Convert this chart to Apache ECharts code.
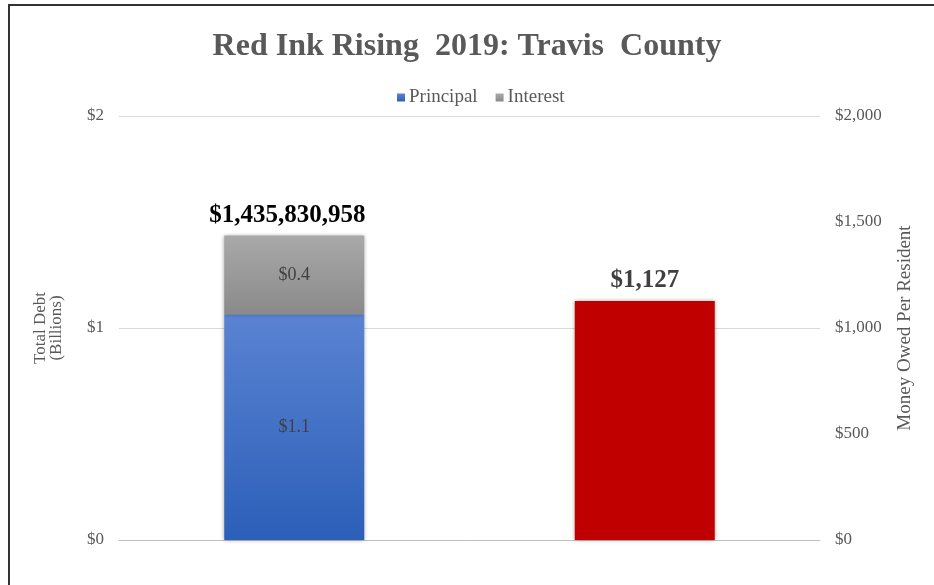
<!DOCTYPE html>
<html>
<head>
<meta charset="utf-8">
<script src="https://cdn.jsdelivr.net/npm/echarts@6/dist/echarts.min.js"></script>
<style>
  html, body { margin: 0; padding: 0; background: #fff; }
  #frame { position: absolute; left: 8px; top: 4px; width: 940px; height: 600px;
           border-left: 2px solid #333; border-top: 2px solid #333; box-sizing: border-box; }
  #chart { position: absolute; left: 0; top: 0; width: 934px; height: 585px; }
</style>
</head>
<body>
<div id="frame"></div>
<div id="chart"></div>
<script>
// Travis County debt, 2019
const categories = ['Total Debt', 'Per Resident'];
const principalDollars = 1065000000;
const interestDollars = 370830958;
const perResident = 1127;
const leftTicks = [0, 1, 2];          // billions
const rightTicks = [0, 500, 1000, 1500, 2000];

const BILLION = 1e9;
const totalDollars = principalDollars + interestDollars;
const serif = '"Liberation Serif", "Times New Roman", serif';
const money = v => '$' + Math.round(v).toLocaleString('en-US');

const chart = echarts.init(document.getElementById('chart'), null, { renderer: 'canvas' });

const shadow = { shadowBlur: 4, shadowColor: 'rgba(0,0,0,0.35)', shadowOffsetX: 0, shadowOffsetY: 0 };

chart.setOption({
  backgroundColor: 'transparent',
  animation: false,
  title: {
    text: 'Red Ink Rising  2019: Travis  County',
    left: 'center', top: 26,
    textStyle: { fontFamily: serif, fontWeight: 'bold', fontSize: 32, color: '#595959' }
  },
  legend: {
    data: ['Principal', 'Interest'],
    top: 83, left: 392,
    itemWidth: 8, itemHeight: 8, itemGap: 18,
    icon: 'rect',
    textStyle: { fontFamily: serif, fontSize: 19, color: '#595959', padding: [0, 0, 0, -1] }
  },
  grid: { left: 119, right: 114, top: 116, bottom: 45, containLabel: false },
  xAxis: {
    type: 'category',
    data: categories,
    axisLine: { lineStyle: { color: '#bfbfbf', width: 1 } },
    axisTick: { show: false },
    axisLabel: { show: false }
  },
  yAxis: [
    {
      type: 'value', min: leftTicks[0], max: leftTicks[leftTicks.length - 1], interval: 1,
      name: 'Total Debt\n(Billions)', nameLocation: 'middle', nameRotate: 90, nameGap: 54,
      nameTextStyle: { fontFamily: serif, fontSize: 17, color: '#595959', lineHeight: 16 },
      axisLine: { show: false }, axisTick: { show: false },
      axisLabel: { fontFamily: serif, fontSize: 17, color: '#595959', margin: 15, formatter: v => '$' + v },
      splitLine: { lineStyle: { color: '#d9d9d9', width: 1 } }
    },
    {
      type: 'value', min: rightTicks[0], max: rightTicks[rightTicks.length - 1], interval: 500,
      name: 'Money Owed Per Resident', nameLocation: 'middle', nameRotate: 90, nameGap: 76,
      nameTextStyle: { fontFamily: serif, fontSize: 19, color: '#595959' },
      axisLine: { show: false }, axisTick: { show: false },
      axisLabel: { fontFamily: serif, fontSize: 17, color: '#595959', margin: 15, formatter: v => money(v) },
      splitLine: { show: false }
    }
  ],
  series: [
    {
      name: 'Principal', type: 'bar', stack: 'debt', yAxisIndex: 0,
      barWidth: 140, barGap: '-100%',
      data: [principalDollars / BILLION, null],
      itemStyle: Object.assign({
        color: new echarts.graphic.LinearGradient(0, 0, 0, 1, [
          { offset: 0, color: '#5a83d2' }, { offset: 1, color: '#2c5fb8' }
        ])
      }, shadow),
      label: {
        show: true, position: 'inside',
        fontFamily: serif, fontSize: 18, color: '#404040',
        formatter: p => '$' + p.value.toFixed(1)
      }
    },
    {
      name: 'Interest', type: 'bar', stack: 'debt', yAxisIndex: 0,
      barWidth: 140, barGap: '-100%',
      data: [interestDollars / BILLION, null],
      itemStyle: Object.assign({
        color: new echarts.graphic.LinearGradient(0, 0, 0, 1, [
          { offset: 0, color: '#a9a9a9' }, { offset: 1, color: '#8a8a8a' }
        ])
      }, shadow),
      label: {
        show: true, position: 'inside',
        fontFamily: serif, fontSize: 18, color: '#404040',
        formatter: p => '$' + p.value.toFixed(1)
      }
    },
    {
      // zero-height cap on the debt stack that carries the total label
      name: 'Total', type: 'bar', stack: 'debt', yAxisIndex: 0,
      barWidth: 140, barGap: '-100%',
      data: [0, null],
      itemStyle: { color: 'transparent' },
      label: {
        show: true, position: 'top', distance: 8, offset: [-7, 0],
        fontFamily: serif, fontSize: 25, fontWeight: 'bold', color: '#000000',
        formatter: () => money(totalDollars)
      }
    },
    {
      name: 'Per Resident', type: 'bar', yAxisIndex: 1,
      barWidth: 140, barGap: '-100%',
      data: [null, perResident],
      itemStyle: Object.assign({ color: '#c00000' }, shadow),
      label: {
        show: true, position: 'top', distance: 8,
        fontFamily: serif, fontSize: 25, fontWeight: 'bold', color: '#404040',
        formatter: p => money(p.value)
      }
    }
  ]
});
</script>
</body>
</html>
